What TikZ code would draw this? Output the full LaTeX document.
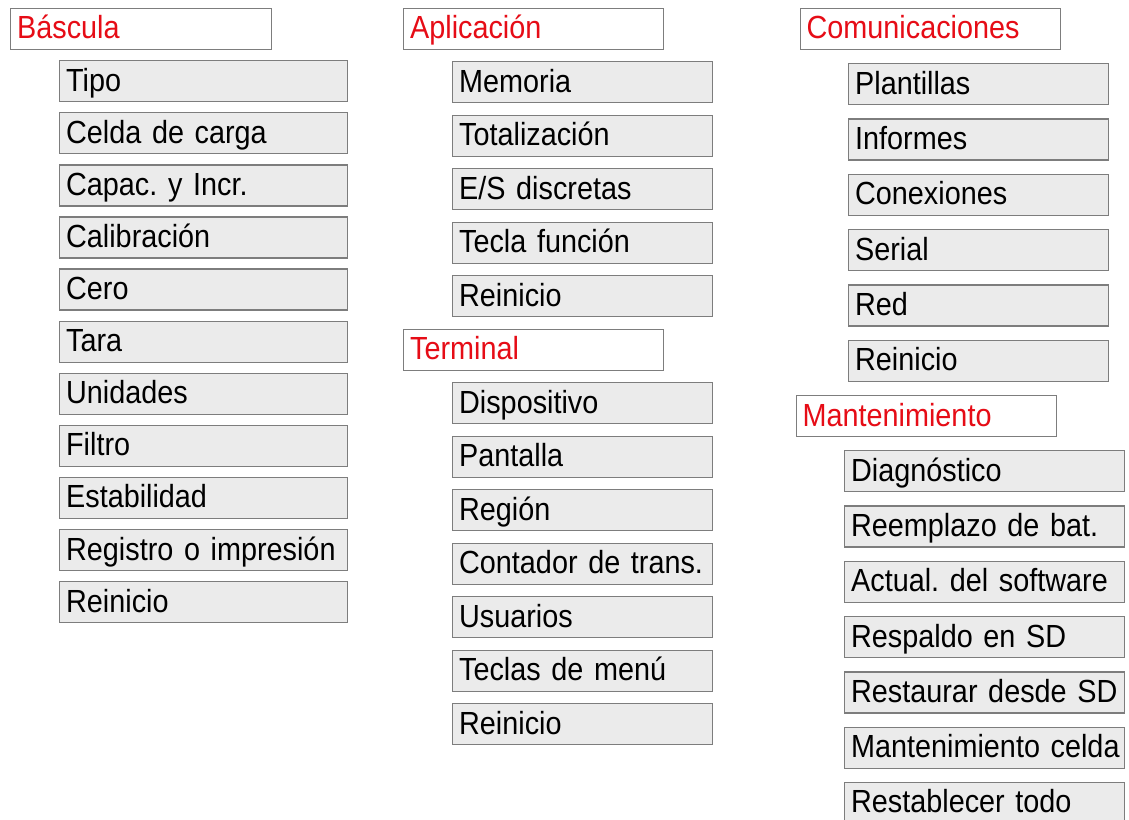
\documentclass[tikz,border=0pt]{standalone}
\usepackage{fontspec}
\setmainfont{Liberation Sans}[FakeStretch=0.9]
\definecolor{hdred}{RGB}{230,12,22}
\definecolor{boxgray}{RGB}{235,235,235}
\definecolor{edgegray}{RGB}{125,125,125}
\newcommand{\boxfont}{\fontsize{32}{36}\selectfont\frenchspacing\spaceskip=6.2pt\relax}
\begin{document}
\begin{tikzpicture}[x=1pt,y=-1pt,
  basebox/.style={draw=edgegray, line width=1.3pt, rectangle, anchor=north west,
    minimum height=41pt, inner xsep=6.5pt, inner ysep=0pt, align=left,
    text height=25pt, text depth=5pt, font=\boxfont},
  hdr/.style={basebox, fill=white, text=hdred},
  itm/.style={basebox, fill=boxgray, text=black}]
\useasboundingbox (0,0) rectangle (1129,819);
% Column 1
\node[hdr, text width=248pt] (bascula) at (10,7.5) {Báscula};
\foreach \t [count=\i] in {Tipo,Celda de carga,Capac. y Incr.,Calibración,Cero,Tara,Unidades,Filtro,Estabilidad,Registro o impresión,Reinicio}
  \node[itm, text width=275pt] (b\i) at (59,{60+(\i-1)*52.1}) {\mbox{\t}};
% Column 2
\node[hdr, text width=247pt] (aplicacion) at (403,7.5) {Aplicación};
\foreach \t [count=\i] in {Memoria,Totalización,E/S discretas,Tecla función,Reinicio}
  \node[itm, text width=247pt] (a\i) at (452,{61+(\i-1)*53.5}) {\mbox{\t}};
\node[hdr, text width=247pt] (terminal) at (403,328.5) {Terminal};
\foreach \t [count=\i] in {Dispositivo,Pantalla,Región,Contador de trans.,Usuarios,Teclas de menú,Reinicio}
  \node[itm, text width=247pt] (t\i) at (452,{382+(\i-1)*53.5}) {\mbox{\t}};
% Column 3
\node[hdr, text width=247pt] (comunicaciones) at (799.5,7.5) {Comunicaciones};
\foreach \t [count=\i] in {Plantillas,Informes,Conexiones,Serial,Red,Reinicio}
  \node[itm, text width=247pt] (c\i) at (848,{63+(\i-1)*55.3}) {\mbox{\t}};
\node[hdr, text width=247pt] (mantenimiento) at (795.5,395) {Mantenimiento};
\foreach \t [count=\i] in {Diagnóstico,Reemplazo de bat.,Actual. del software,Respaldo en SD,Restaurar desde SD,Mantenimiento celda,Restablecer todo}
  \node[itm, text width=267pt] (m\i) at (844,{450+(\i-1)*55.3}) {\mbox{\t}};
\end{tikzpicture}
\end{document}
